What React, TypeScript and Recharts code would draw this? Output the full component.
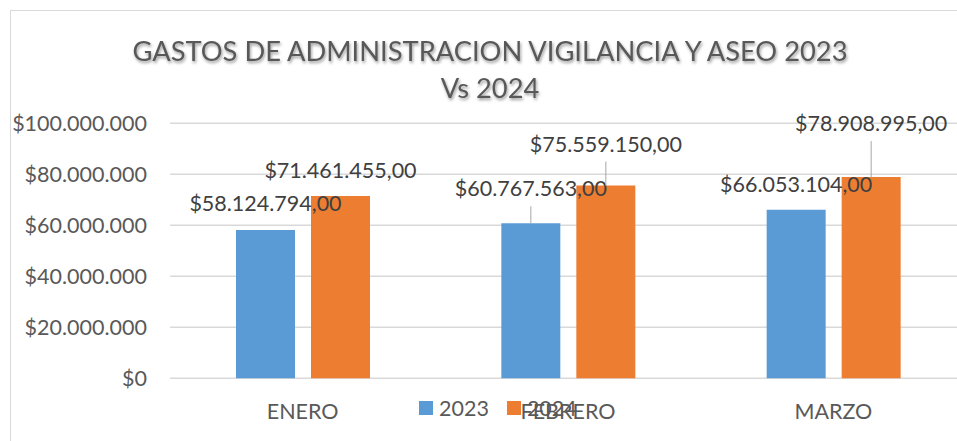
import React from 'react';
import { BarChart, Bar, XAxis, YAxis, CartesianGrid, Legend } from 'recharts';

const FONT = "Lato, 'Open Sans', sans-serif";

const categories = ['ENERO', 'FEBRERO', 'MARZO'];
const values2023 = [58124794, 60767563, 66053104];
const values2024 = [71461455, 75559150, 78908995];
const yTicks = [0, 20000000, 40000000, 60000000, 80000000, 100000000];
const seriesNames = ['2023', '2024'];
const titleLines = ['GASTOS DE ADMINISTRACION VIGILANCIA Y ASEO 2023', 'Vs 2024'];

const data = categories.map((c, i) => ({ mes: c, v2023: values2023[i], v2024: values2024[i] }));

// label placement: distance of label baseline above bar top, and whether a leader line is drawn
const labelLift2023 = [19, 27, 18];
const labelLift2024 = [18, 34, 46];
const leader2023 = [false, true, false];
const leader2024 = [false, true, true];

function groupThousands(n: number): string {
  const s = Math.round(n).toString();
  return s.replace(/\B(?=(\d{3})+(?!\d))/g, '.');
}
const fmtTick = (v: number) => '$' + groupThousands(v);
const fmtLabel = (v: number) => '$' + groupThousands(v) + ',00';

const makeLabel = (lifts: number[], leaders: boolean[]) => (props: any) => {
  const { x, y, width, value, index } = props;
  const cx = Number(x) + Number(width) / 2;
  const top = Number(y);
  const baseline = top - lifts[index];
  return (
    <g key={'lbl' + index}>
      {leaders[index] && (
        <line x1={cx} x2={cx} y1={baseline + 10} y2={top} stroke="#a6a6a6" strokeWidth={1} />
      )}
      <text x={cx} y={baseline} textAnchor="middle" fill="#404040" fontSize={21.5} fontFamily={FONT}>
        {fmtLabel(Number(value))}
      </text>
    </g>
  );
};

const renderLegend = (props: any) => {
  const payload = props.payload || [];
  return (
    <div style={{ display: 'flex', alignItems: 'center', height: 20 }}>
      {payload.map((p: any, i: number) => (
        <div key={i} style={{ display: 'flex', alignItems: 'center', marginRight: 18 }}>
          <span style={{ width: 14, height: 14, background: p.color, display: 'inline-block', marginRight: 6 }} />
          <span style={{ fontSize: 21.5, color: '#595959', fontFamily: FONT, lineHeight: '20px' }}>{p.value}</span>
        </div>
      ))}
    </div>
  );
};

export default function App() {
  return (
    <div style={{ position: 'absolute', left: 0, top: 0, width: 957, height: 441, overflow: 'hidden', background: '#fff' }}>
      <div style={{ position: 'absolute', left: 10, top: 10, width: 1000, height: 500, borderLeft: '1px solid #d9d9d9', borderTop: '1px solid #d9d9d9' }} />
      <svg width={980} height={120} style={{ position: 'absolute', left: 0, top: 0 }}>
        <defs>
          <filter id="tshadow" x="-5%" y="-30%" width="110%" height="160%">
            <feDropShadow dx="1" dy="2" stdDeviation="1.5" floodColor="#000" floodOpacity="0.4" />
          </filter>
        </defs>
        <text x={490} y={61} textAnchor="middle" fontFamily={FONT} fontSize={27.3} fill="#595959" filter="url(#tshadow)">{titleLines[0]}</text>
        <text x={490} y={98} textAnchor="middle" fontFamily={FONT} fontSize={27.3} fill="#595959" filter="url(#tshadow)">{titleLines[1]}</text>
      </svg>
      <div style={{ position: 'absolute', left: 0, top: 0 }}>
        <BarChart
          width={966}
          height={441}
          data={data}
          margin={{ top: 123.3, right: 0, bottom: 12.7, left: 0 }}
          barSize={59}
          barGap={16}
        >
          <CartesianGrid vertical={false} stroke="#d9d9d9" strokeWidth={1.5} />
          <XAxis
            dataKey="mes"
            axisLine={false}
            tickLine={false}
            tickSize={0}
            tickMargin={25}
            height={30}
            tick={{ fill: '#595959', fontSize: 21.5, fontFamily: FONT }}
          />
          <YAxis
            domain={[0, 100000000]}
            ticks={yTicks}
            tickFormatter={fmtTick}
            axisLine={false}
            tickLine={false}
            tickSize={0}
            tickMargin={23}
            width={170}
            interval={0}
            tick={{ fill: '#595959', fontSize: 21.5, fontFamily: FONT }}
          />
          <Legend
            content={renderLegend}
            wrapperStyle={{ left: 419, top: 398, bottom: 'auto', width: 'auto' }}
          />
          <Bar dataKey="v2023" name={seriesNames[0]} fill="#5B9BD5" isAnimationActive={false} label={makeLabel(labelLift2023, leader2023)} />
          <Bar dataKey="v2024" name={seriesNames[1]} fill="#ED7D31" isAnimationActive={false} label={makeLabel(labelLift2024, leader2024)} />
        </BarChart>
      </div>
    </div>
  );
}
